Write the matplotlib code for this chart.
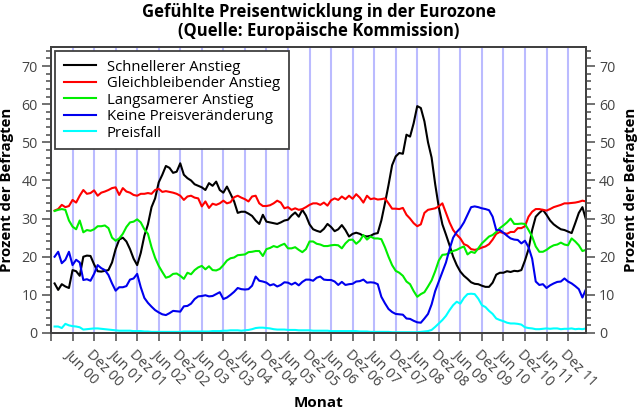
import numpy as np
import matplotlib.pyplot as plt
from matplotlib.ticker import MultipleLocator

plt.rcParams['font.family'] = ['Open Sans', 'DejaVu Sans']

# monthly values, Jan 2000 .. May 2012 (one row per year)
schneller = [
    13, 11.3, 12.8, 12.2, 11.8, 16.5, 16.2, 15, 20, 20.3, 20.2, 18,
    16.2, 16.1, 16.3, 16.5, 18.5, 22, 24.5, 25, 24, 22, 19.5, 17.8,
    21, 25.5, 28.5, 33, 35.3, 39.5, 41.5, 43.8, 43.3, 42, 42.3, 44.5,
    41.5, 40.6, 40, 39, 38.6, 38.2, 37.5, 39.3, 38.6, 39.7, 37.5, 36.8,
    38.4, 36.5, 34.5, 31.5, 31.8, 31.8, 31.3, 30.7, 29.5, 28.6, 31, 29.2,
    29, 28.8, 28.6, 29, 29.5, 29.7, 30.8, 31.6, 30.5, 32.3, 30.8, 28.5,
    27.2, 26.8, 26.5, 27.3, 28.6, 27.8, 26.7, 27.2, 28.3, 27, 25.3, 26,
    26.3, 26, 25.5, 25.3, 25.5, 26, 26.2, 29.5, 34, 38.8, 44, 46.3,
    47.2, 47, 52, 51.5, 55, 59.5, 59, 55.5, 50, 46, 39, 33,
    28.5, 25.8, 23, 20, 17.8, 16.1, 15, 14.2, 13.3, 12.9, 12.8, 12.4,
    12.1, 12.1, 13.2, 15.3, 15.8, 15.8, 16.2, 16, 16.3, 16.2, 16.5, 19,
    22, 27, 30.5, 31.5, 32.3, 31, 29.5, 28.5, 27.8, 27.2, 27, 26.6,
    26.2, 28.8, 31.5, 33, 29.7]

gleich = [
    32.1, 32.5, 33.6, 33, 33.3, 34.9, 34.2, 36, 37.5, 36.5, 36.7, 37.4,
    36, 36.8, 37.1, 37.5, 38, 38.2, 36.2, 38, 37.1, 36.8, 36.2, 36,
    36.5, 36.5, 36.7, 36.5, 37.5, 37.8, 37, 37.2, 37, 36.8, 36.5, 36,
    34.9, 35.8, 36, 35.5, 35.3, 33.2, 34.5, 32.8, 33.9, 33.6, 34, 34.7,
    34, 34.3, 35.6, 36, 35.5, 35.1, 34.5, 35.8, 36, 34, 33.3, 33.3,
    33.5, 34, 34.7, 34.2, 32.7, 33, 32.3, 32.7, 32.3, 32.5, 33, 33.6,
    34, 34, 33.6, 34.2, 33.4, 34.8, 35.3, 34.9, 35.8, 35.1, 36, 35.2,
    36.4, 35.5, 34.2, 36, 35.1, 35.3, 35, 35.1, 35.3, 34, 32.6, 32.6,
    32.5, 32.8, 31, 30, 28.8, 28, 28.5, 31.5, 32.3, 32.5, 32.7, 33.2,
    34, 31.5, 29, 27, 25.8, 24.8, 23.3, 22.9, 22, 21.8, 22, 22.4,
    22.7, 23.3, 24.5, 26, 26.5, 26.2, 26, 26.5, 26.5, 27.5, 27.5, 28,
    30.5, 31.8, 32.5, 32.5, 32.3, 32.1, 32.5, 33, 33.3, 33.6, 34, 34,
    34.1, 34.2, 34.4, 34.7, 34.5]

langsamer = [
    32, 32.3, 32.5, 32.3, 29.5, 27.9, 27.2, 29.5, 26.4, 27, 26.8, 27.2,
    28, 28, 28.2, 27.5, 25, 24.2, 24.8, 26, 27.8, 29, 29.2, 29.8,
    29, 27.2, 26, 22.5, 19.7, 17.6, 16, 14.5, 14.8, 15.5, 15.6, 15,
    14.2, 15.8, 15.4, 16.5, 17.2, 17.6, 16.7, 17.5, 16.5, 16.4, 16.8, 17.8,
    19, 19.6, 19.8, 20.4, 20.5, 20.6, 21.2, 21.3, 21.5, 21.5, 20.2, 22,
    22.3, 22.8, 22.5, 23, 23.4, 22.2, 22.2, 22.5, 21.8, 21.2, 22, 24,
    24, 23.4, 23.2, 22.8, 22.8, 23, 23.1, 23, 22.2, 23.5, 24.4, 24.5,
    23.4, 24.2, 25.7, 24.5, 25.3, 24.8, 24.8, 24.6, 22.5, 20, 17.8, 16.3,
    15.8, 15, 13.5, 12.8, 11, 9.5, 10.2, 10.7, 12.2, 13.8, 16.2, 19,
    20.5, 20.6, 21, 21.5, 21.8, 22.3, 22.7, 20.6, 21.3, 21, 22.2, 23.5,
    24.4, 25.3, 25.7, 26.5, 27.5, 28.2, 29, 30, 28.6, 28.6, 28.7, 28.6,
    27, 25.3, 22.7, 21.3, 21.3, 21.8, 22.5, 23, 23.2, 23.7, 23.2, 23,
    24.8, 24, 23, 21.5, 21.8]

keine = [
    20, 21.3, 18.3, 19.2, 21.3, 17.8, 19.2, 18.5, 13.9, 14.1, 13.7, 15.5,
    17.8, 17, 16.5, 15.2, 13, 11.1, 12, 12, 12.3, 14, 14.3, 15.5,
    12, 9.2, 7.9, 6.9, 6, 5.4, 4.9, 4.7, 5.2, 5.8, 5.7, 5.6,
    7, 7.1, 7.7, 8.9, 9.6, 9.7, 9.9, 9.6, 9.7, 10.2, 10.7, 8.9,
    9.3, 10, 10.8, 11.8, 11.5, 11.4, 11.5, 12.4, 14.8, 13.7, 13.5, 13.2,
    12.5, 12.8, 12.2, 12.6, 13.3, 13.2, 12.7, 13.2, 12.5, 13.4, 14, 14,
    13.7, 14.5, 14.8, 14, 13.9, 13.9, 13.5, 12.6, 13.4, 12.6, 12.8, 12.9,
    13.5, 13.6, 14, 13.2, 13.3, 13.2, 12.8, 9.5, 7.8, 6.3, 5.5, 5,
    4.9, 4.8, 3.8, 3.7, 3.2, 2.8, 2.7, 3.8, 5, 7.5, 11, 13.5,
    16, 18.5, 22, 25, 26.5, 27.5, 29, 31, 33, 33.2, 33, 32.7,
    32.5, 32.2, 30.5, 27, 27, 26.3, 25.5, 24.8, 24.5, 24.4, 23.5, 24.2,
    22.5, 19.5, 13.5, 12.6, 12.8, 11.8, 12.5, 13, 13.4, 13.5, 14.3, 13.5,
    13, 12.3, 11.5, 9.3, 11.5]

preisfall = [
    1.7, 1.7, 1.3, 2.4, 2.0, 1.8, 1.7, 1.5, 0.9, 1.0, 1.1, 1.2,
    1.2, 1.1, 1.0, 0.9, 0.8, 0.7, 0.6, 0.6, 0.6, 0.6, 0.5, 0.5,
    0.5, 0.4, 0.4, 0.3, 0.3, 0.3, 0.3, 0.3, 0.3, 0.3, 0.3, 0.3,
    0.4, 0.4, 0.4, 0.4, 0.4, 0.4, 0.4, 0.4, 0.5, 0.5, 0.5, 0.6,
    0.6, 0.7, 0.7, 0.7, 0.6, 0.7, 0.8, 1.0, 1.3, 1.4, 1.4, 1.3,
    1.2, 1.0, 0.9, 0.9, 0.9, 0.8, 0.8, 0.8, 0.7, 0.7, 0.7, 0.7,
    0.6, 0.6, 0.6, 0.6, 0.6, 0.5, 0.5, 0.5, 0.5, 0.5, 0.5, 0.5,
    0.5, 0.4, 0.4, 0.4, 0.3, 0.3, 0.3, 0.3, 0.3, 0.3, 0.2, 0.2,
    0.2, 0.2, 0.2, 0.2, 0.2, 0.2, 0.3, 0.4, 0.5, 0.8, 1.6, 2.5,
    3.4, 4.5, 6.0, 7.3, 8.2, 7.7, 9.2, 10.2, 10.3, 10.2, 9.0, 7.3,
    6.8, 5.8, 5.0, 3.8, 3.4, 3.1, 2.7, 2.5, 2.5, 2.4, 2.2, 1.5,
    1.3, 1.2, 1.0, 1.0, 1.1, 1.2, 1.1, 1.2, 1.2, 1.0, 1.1, 1.1,
    1.2, 1.0, 1.1, 1.0, 1.2]

serien = [
    ('Schnellerer Anstieg', schneller, '#000000'),
    ('Gleichbleibender Anstieg', gleich, '#ff0000'),
    ('Langsamerer Anstieg', langsamer, '#00ee00'),
    ('Keine Preisveränderung', keine, '#0000ee'),
    ('Preisfall', preisfall, '#00ffff'),
]

# tick labels every half year (Dez 99 has no label)
halbjahre = [''] + [f'{m} {y:02d}' for y in range(0, 12) for m in ('Jun', 'Dez')]
tick_pos = np.arange(len(halbjahre)) * 6 - 1

grau = '#444444'

fig = plt.figure(figsize=(6.38, 4.12), dpi=100)
ax = fig.add_axes([51/638, 1 - 333/412, 535/638, 286/412])

monate = np.arange(len(schneller))
for name, werte, farbe in serien:
    ax.plot(monate, werte, color=farbe, lw=1.5, label=name)

ax.set_xlim(-1, len(schneller) - 1)
ax.set_ylim(0, 75)

ax.set_xticks(tick_pos)
ax.set_xticklabels(halbjahre, rotation=-45, ha='left', va='top',
                   rotation_mode='anchor', color=grau, fontsize=10.3)
ax.tick_params(axis='x', length=6, width=1.3, color='#666666', pad=4)
ax.xaxis.grid(True, color='#bbbbff', lw=1.5)
ax.set_axisbelow(True)

ax.yaxis.set_major_locator(MultipleLocator(10))
ax.yaxis.set_minor_locator(MultipleLocator(2))

ax2 = ax.twinx()
ax2.set_ylim(ax.get_ylim())
ax2.yaxis.set_major_locator(MultipleLocator(10))
ax2.yaxis.set_minor_locator(MultipleLocator(2))

for a in (ax, ax2):
    a.tick_params(axis='y', which='major', length=6.5, width=1.3,
                  color='#666666', labelcolor=grau, labelsize=10.3, pad=3)
    a.tick_params(axis='y', which='minor', length=3.5, width=1.3, color='#666666')
    for s in a.spines.values():
        s.set_color('#404040')
        s.set_linewidth(1.3)

ax.set_ylabel('Prozent der Befragten', fontsize=10.8, fontweight='bold', labelpad=5)
ax2.yaxis.set_label_position('right')
ax2.set_ylabel('Prozent der Befragten', fontsize=10.8, fontweight='bold', rotation=90, labelpad=6)

ax.set_xlabel('Monat', fontsize=11, fontweight='bold', labelpad=5)
ax.set_title('Gefühlte Preisentwicklung in der Eurozone\n(Quelle: Europäische Kommission)',
             fontsize=12, fontweight='bold', linespacing=1.05, pad=8)

leg = ax.legend(loc='upper left', fontsize=10.7, frameon=True, fancybox=False,
                handlelength=2.2, handletextpad=0.7, labelspacing=0.1,
                borderaxespad=0.25, borderpad=0.6)
leg.get_frame().set_edgecolor('#404040')
leg.get_frame().set_linewidth(1.3)
leg.get_frame().set_alpha(1)

fig.savefig('out.png', dpi=100)
